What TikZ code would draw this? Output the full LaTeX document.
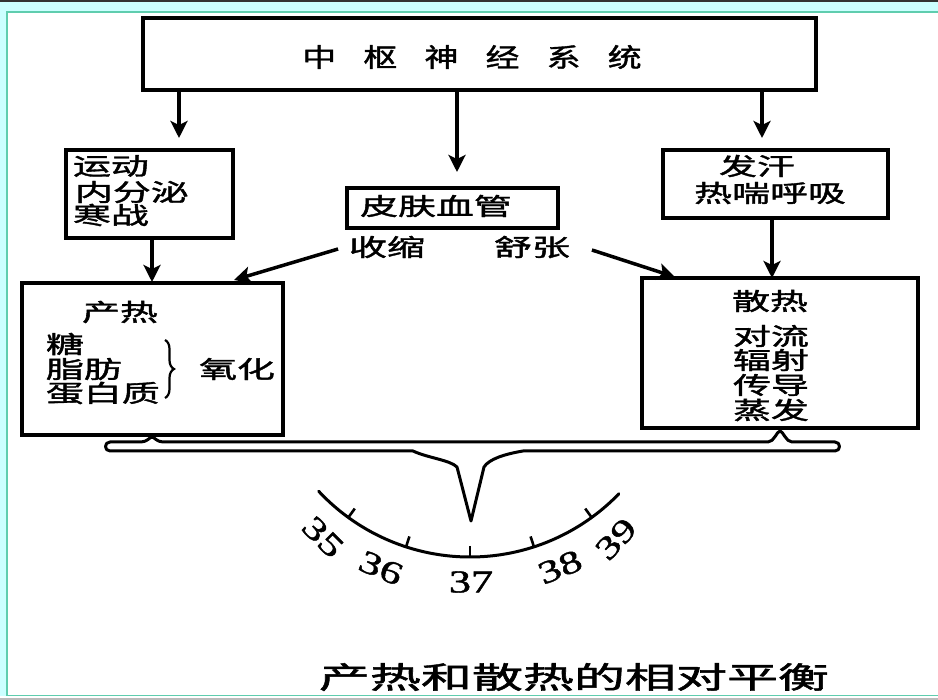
\documentclass[tikz,border=0pt]{standalone}
\usepackage{fontspec}
\usepackage{graphicx}
\setmainfont{Liberation Serif}
\newfontfamily\cjk{Noto Sans CJK SC}[FakeBold=1.4]
\newfontfamily\numfont{Liberation Serif}[FakeBold=1.2]
\usetikzlibrary{arrows.meta,decorations.pathreplacing,calc}
\newcommand{\zh}[2][1.58]{\scalebox{#1}[1]{\fontsize{24pt}{25pt}\selectfont\cjk #2}}
\newcommand{\numlab}[1]{\scalebox{1.38}[1]{\fontsize{32pt}{32pt}\selectfont\numfont #1}}
\definecolor{framecyan}{HTML}{CCFFFF}
\definecolor{frameteal}{HTML}{5FCDAE}
\definecolor{framedark}{HTML}{333333}
\definecolor{framegray}{HTML}{BBBBBB}
\tikzset{
  box/.style={draw=black, line width=3.5pt, fill=white, inner sep=0pt},
  txt/.style={inner sep=0pt, outer sep=0pt},
  arr/.style={line width=3.5pt, -{Stealth[length=17pt,width=17pt,inset=4pt]}},
  beam/.style={line width=3pt, line join=round},
}
\begin{document}
\begin{tikzpicture}[x=1pt,y=-1pt]
\useasboundingbox (0,0) rectangle (938,700);
% frame
\fill[white] (0,0) rectangle (938,700);
\fill[framecyan] (0,0) rectangle (938,12);
\fill[framecyan] (0,0) rectangle (7,696);
\draw[framedark, line width=1.6pt] (0,0.8) -- (938,0.8);
\draw[frameteal, line width=1.6pt] (938,12) -- (7,12) -- (7,695.5) -- (938,695.5);
\draw[framegray, line width=1.2pt] (0,699) -- (938,699);

% boxes
\node[box, minimum width=673pt, minimum height=72pt] (cns) at (479.5,54) {};
\node[txt] (cnst) at (472,57) {\zh[1.3]{\fontsize{26pt}{26pt}\selectfont 中\hspace{21pt}枢\hspace{21pt}神\hspace{21pt}经\hspace{21pt}系\hspace{21pt}统}};

\node[box, minimum width=167pt, minimum height=88pt] (motor) at (149.5,194) {};
\node[txt, anchor=west] (m1) at (73,166) {\zh{运动}};
\node[txt, anchor=west] (m2) at (75,192) {\zh{内分泌}};
\node[txt, anchor=west] (m3) at (73,215) {\zh{寒战}};

\node[box, minimum width=211pt, minimum height=40pt] (skin) at (452.5,208) {};
\node[txt] (skint) at (436,206) {\zh{皮肤血管}};

\node[box, minimum width=225pt, minimum height=68pt] (sweat) at (775.5,184) {};
\node[txt] (s1) at (757,166) {\zh{发汗}};
\node[txt] (s2) at (770,193) {\zh{热喘呼吸}};

\node[txt] (shrink) at (387,247) {\zh{收缩}};
\node[txt] (dilate) at (532,247) {\zh{舒张}};

\node[box, minimum width=261pt, minimum height=152pt] (prod) at (152.5,359) {};
\node[txt] (p0) at (120,312) {\zh{产热}};
\node[txt, anchor=west] (p1) at (46,344) {\zh{糖}};
\node[txt, anchor=west] (p2) at (46,369) {\zh{脂肪}};
\node[txt, anchor=west] (p3) at (46,393) {\zh{蛋白质}};
\node[txt] (p4) at (237,369) {\zh{氧化}};
\draw[line width=2.2pt, decorate, decoration={brace, amplitude=9pt}] (165,340) -- (165,398);

\node[box, minimum width=276pt, minimum height=150pt] (loss) at (780,353) {};
\node[txt] (l0) at (770,301) {\zh{散热}};
\node[txt] (l1) at (771,336) {\zh{对流}};
\node[txt] (l2) at (771,360) {\zh{辐射}};
\node[txt] (l3) at (771,385) {\zh{传导}};
\node[txt] (l4) at (771,410) {\zh{蒸发}};

% arrows
\coordinate (t1) at (179,138);
\coordinate (t2) at (457,172);
\coordinate (t3) at (762,138);
\coordinate (t4) at (152,282);
\coordinate (t5) at (772,278);
\coordinate (t6) at (234,280);
\coordinate (t7) at (675,277);
\draw[arr] (cns.south -| t1) -- (t1);
\draw[arr] (cns.south -| t2) -- (t2);
\draw[arr] (cns.south -| t3) -- (t3);
\draw[arr] (motor.south -| t4) -- (t4);
\draw[arr] (sweat.south -| t5) -- (t5);
\draw[arr] ([xshift=-11pt,yshift=-2pt]shrink.west) -- (t6);
\draw[arr] ([xshift=22pt,yshift=-3pt]dilate.east) -- (t7);

% balance beam
\draw[beam] (110,442) -- (141,442)
  .. controls (147,442) and (150,437) .. (152,437)
  .. controls (154,437) and (157,442) .. (163,442)
  -- (768,442)
  .. controls (774,442) and (777,431) .. (780,431)
  .. controls (783,431) and (786,442) .. (792,442)
  -- (835,442)
  .. controls (841,442) and (841,451) .. (835,451)
  -- (523,451)
  .. controls (505,454) and (489,459) .. (484,467)
  -- (471,521) -- (457,467)
  .. controls (450,460) and (428,458) .. (413,451)
  -- (110,451)
  .. controls (104,451) and (104,442) .. (110,442) -- cycle;

% thermometer scale
\coordinate (c) at (470,350);
\draw[line width=3pt, line cap=round] ($(c)+(137:207)$) arc[start angle=137, end angle=44, radius=207];
\foreach \a in {126,108,90,72,54}{
  \draw[line width=2.6pt] ($(c)+(\a:196)$) -- ($(c)+(\a:207)$);
}
\node[txt, rotate=-45] (n35) at (323,537) {\numlab{35}};
\node[txt, rotate=-23] (n36) at (381,568) {\numlab{36}};
\node[txt] (n37) at (471,582) {\numlab{37}};
\node[txt, rotate=22] (n38) at (560,567) {\numlab{38}};
\node[txt, rotate=47] (n39) at (616,539) {\numlab{39}};

% title
\node[txt] (title) at (574,677) {\scalebox{1.7}[1]{\fontsize{30pt}{30pt}\selectfont\cjk 产热和散热的相对平衡}};
\end{tikzpicture}
\end{document}
